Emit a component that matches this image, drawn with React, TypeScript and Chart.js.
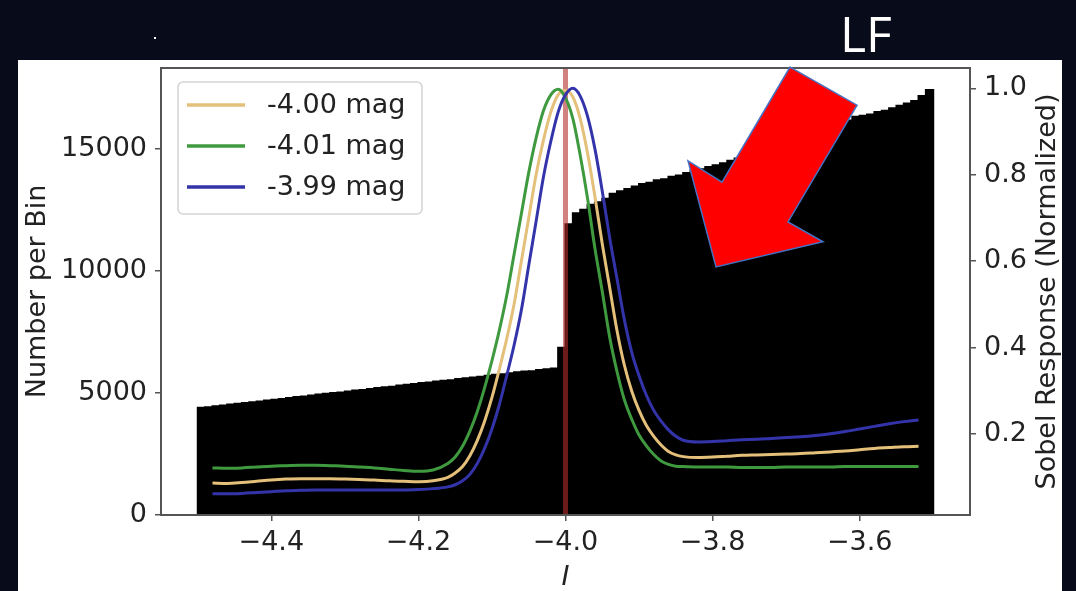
import React, { useEffect, useRef } from "react";
import { Chart, registerables } from "chart.js";

Chart.register(...registerables);

// ---------- data ----------
const HIST_START = -4.5;
const HIST_BIN_WIDTH = 0.01;
const histCounts = [
  4390, 4410, 4450, 4480, 4520, 4550, 4590, 4620, 4650, 4690,
  4720, 4750, 4790, 4830, 4850, 4890, 4930, 4960, 4990, 5020,
  5060, 5100, 5120, 5160, 5200, 5230, 5250, 5300, 5330, 5360,
  5400, 5420, 5470, 5500, 5520, 5570, 5600, 5630, 5660, 5700,
  5740, 5760, 5800, 5840, 5870, 5890, 5940, 5970, 6000, 6850,
  11900, 12350, 12500, 12700, 12800, 12950, 13150, 13250, 13350, 13450,
  13550, 13600, 13700, 13750, 13850, 13900, 14000, 14100, 14150, 14250,
  14320, 14400, 14500, 14600, 14700, 14800, 14900, 15000, 15100, 15200,
  15300, 15400, 15500, 15600, 15700, 15800, 15900, 16000, 16150, 16300,
  16350, 16400, 16500, 16550, 16650, 16750, 16850, 16950, 17150, 17400,
];

const curveX = [
  -4.48, -4.46, -4.44, -4.42, -4.40, -4.38, -4.36, -4.34, -4.32, -4.30, -4.28, -4.26, -4.24, -4.22, -4.20, -4.18, -4.16,
  -4.15, -4.14, -4.13, -4.12, -4.11, -4.10, -4.09, -4.08, -4.07, -4.06, -4.05, -4.04, -4.03, -4.02, -4.01, -4.00,
  -3.99, -3.98, -3.97, -3.96, -3.95, -3.94, -3.93, -3.92, -3.91, -3.90, -3.89, -3.88, -3.87, -3.86, -3.85, -3.84,
  -3.82, -3.80, -3.78, -3.76, -3.74, -3.72, -3.70, -3.68, -3.66, -3.64, -3.62, -3.60, -3.58, -3.56, -3.54, -3.52,
];

const sobel400 = [
  0.087, 0.086, 0.088, 0.091, 0.094, 0.096, 0.097, 0.097, 0.097, 0.096, 0.095, 0.094, 0.092, 0.091, 0.090, 0.092, 0.100,
  0.110, 0.125, 0.150, 0.185, 0.230, 0.285, 0.350, 0.420, 0.500, 0.600, 0.700, 0.800, 0.880, 0.945, 0.985, 0.995,
  0.980, 0.930, 0.850, 0.750, 0.640, 0.540, 0.440, 0.360, 0.300, 0.255, 0.220, 0.195, 0.175, 0.160, 0.152, 0.148,
  0.146, 0.147, 0.149, 0.151, 0.152, 0.153, 0.154, 0.155, 0.157, 0.159, 0.161, 0.164, 0.167, 0.169, 0.171, 0.172,
];

const sobel401 = [
  0.122, 0.121, 0.122, 0.124, 0.126, 0.127, 0.128, 0.128, 0.127, 0.126, 0.124, 0.122, 0.119, 0.116, 0.114, 0.117, 0.132,
  0.147, 0.172, 0.207, 0.252, 0.307, 0.370, 0.440, 0.520, 0.615, 0.710, 0.805, 0.885, 0.948, 0.985, 0.998, 0.978,
  0.930, 0.845, 0.745, 0.630, 0.530, 0.425, 0.345, 0.280, 0.235, 0.198, 0.173, 0.153, 0.138, 0.130, 0.126, 0.125,
  0.124, 0.124, 0.124, 0.123, 0.123, 0.123, 0.124, 0.124, 0.124, 0.124, 0.125, 0.125, 0.125, 0.125, 0.125, 0.125,
];

const sobel399 = [
  0.062, 0.062, 0.063, 0.065, 0.067, 0.069, 0.070, 0.071, 0.071, 0.071, 0.071, 0.071, 0.071, 0.071, 0.072, 0.074, 0.078,
  0.083, 0.092, 0.107, 0.132, 0.167, 0.212, 0.268, 0.335, 0.405, 0.487, 0.590, 0.692, 0.795, 0.877, 0.945, 0.985,
  1.000, 0.982, 0.935, 0.860, 0.762, 0.655, 0.560, 0.465, 0.390, 0.335, 0.290, 0.255, 0.230, 0.210, 0.195, 0.186,
  0.182, 0.183, 0.185, 0.187, 0.188, 0.190, 0.192, 0.194, 0.197, 0.201, 0.206, 0.212, 0.218, 0.224, 0.229, 0.233,
];

const seriesLabels = ["-4.00 mag", "-4.01 mag", "-3.99 mag"];
const xTicks = [-4.4, -4.2, -4.0, -3.8, -3.6];
const yTicks = [0, 5000, 10000, 15000];
const y2Ticks = [0.2, 0.4, 0.6, 0.8, 1.0];
const REF_MAG = -4.0;

// annotation arrow, in (x, right-axis) data coordinates
const arrowX = [-3.6947, -3.6036, -3.6975, -3.6499, -3.7954, -3.8334, -3.7872];
const arrowY = [1.049, 0.961, 0.691, 0.645, 0.587, 0.832, 0.783];

// ---------- styles ----------
const FONT = "DejaVu Sans";
const FS = 27;
const TEXT = "#222";
const AXIS = "#555";
const COLORS = ["#e4c07a", "#3f9a3f", "#3434aa"];

const zeroPad = (s: any) => {
  s.paddingTop = 0;
  s.paddingBottom = 0;
  s.paddingLeft = 0;
  s.paddingRight = 0;
};

const overlayPlugin = {
  id: "overlay",
  afterDatasetDraw(chart: any, args: any) {
    if (args.meta.type !== "bar") return;
    const { ctx, chartArea } = chart;
    const x = chart.scales.x.getPixelForValue(REF_MAG);
    ctx.save();
    ctx.strokeStyle = "rgba(180,45,45,0.6)";
    ctx.lineWidth = 5;
    ctx.beginPath();
    ctx.moveTo(x, chartArea.top);
    ctx.lineTo(x, chartArea.bottom);
    ctx.stroke();
    ctx.restore();
  },
  afterDatasetsDraw(chart: any) {
    const { ctx, chartArea } = chart;
    ctx.save();
    // frame
    ctx.strokeStyle = AXIS;
    ctx.lineWidth = 2;
    ctx.strokeRect(chartArea.left, chartArea.top, chartArea.right - chartArea.left, chartArea.bottom - chartArea.top);
    // legend
    const bx = chartArea.left + 17;
    const by = chartArea.top + 14;
    const bw = 244;
    const bh = 132;
    ctx.beginPath();
    (ctx as any).roundRect(bx, by, bw, bh, 5);
    ctx.fillStyle = "rgba(255,255,255,0.85)";
    ctx.fill();
    ctx.strokeStyle = "#d4d4d4";
    ctx.lineWidth = 1.5;
    ctx.stroke();
    const lineDs = chart.data.datasets.filter((d: any) => d.type === "line");
    ctx.font = `${FS}px "${FONT}"`;
    ctx.textBaseline = "middle";
    ctx.textAlign = "left";
    lineDs.forEach((d: any, i: number) => {
      const yy = by + 23 + i * 41;
      ctx.strokeStyle = d.borderColor;
      ctx.lineWidth = 3.5;
      ctx.beginPath();
      ctx.moveTo(bx + 9, yy);
      ctx.lineTo(bx + 67, yy);
      ctx.stroke();
      ctx.fillStyle = TEXT;
      ctx.fillText(d.label, bx + 89, yy + 1);
    });
    ctx.restore();
  },
  afterDraw(chart: any) {
    const { ctx, chartArea } = chart;
    ctx.save();
    // right axis title (reads bottom to top)
    ctx.translate(1030, (chartArea.top + chartArea.bottom) / 2);
    ctx.rotate(-Math.PI / 2);
    ctx.font = `${FS}px "${FONT}"`;
    ctx.fillStyle = TEXT;
    ctx.textAlign = "center";
    ctx.textBaseline = "middle";
    ctx.fillText("Sobel Response (Normalized)", 0, 0);
    ctx.restore();
    // arrow
    const xs = chart.scales.x;
    const ys = chart.scales.y2;
    ctx.save();
    ctx.beginPath();
    arrowX.forEach((v, i) => {
      const px = xs.getPixelForValue(v);
      const py = ys.getPixelForValue(arrowY[i]);
      if (i === 0) ctx.moveTo(px, py);
      else ctx.lineTo(px, py);
    });
    ctx.closePath();
    ctx.fillStyle = "#ff0000";
    ctx.fill();
    ctx.strokeStyle = "#4472c4";
    ctx.lineWidth = 1.5;
    ctx.stroke();
    ctx.restore();
  },
};

export default function App() {
  const ref = useRef<HTMLCanvasElement | null>(null);

  useEffect(() => {
    if (!ref.current) return;
    Chart.defaults.font.family = FONT;
    const histData = histCounts.map((c, i) => ({ x: HIST_START + HIST_BIN_WIDTH * (i + 0.5), y: c }));
    const mk = (vals: number[]) => curveX.map((x, i) => ({ x, y: vals[i] }));
    const series = [sobel400, sobel401, sobel399];
    const lineOrders = [3, 2, 1];
    const tickFont = { family: FONT, size: FS };
    const chart = new Chart(ref.current, {
      type: "bar",
      data: {
        datasets: [
          {
            type: "bar",
            label: "hist",
            data: histData as any,
            backgroundColor: "#000",
            borderColor: "#000",
            borderWidth: 0,
            inflateAmount: 1,
            barPercentage: 1,
            categoryPercentage: 1,
            xAxisID: "x",
            yAxisID: "y",
            order: 10,
          } as any,
          ...series.map((vals, i) => ({
            type: "line",
            label: seriesLabels[i],
            data: mk(vals),
            borderColor: COLORS[i],
            backgroundColor: COLORS[i],
            borderWidth: 3,
            pointRadius: 0,
            fill: false,
            cubicInterpolationMode: "monotone",
            xAxisID: "x",
            yAxisID: "y2",
            order: lineOrders[i],
          })),
        ],
      },
      options: {
        animation: false,
        responsive: false,
        maintainAspectRatio: false,
        devicePixelRatio: 1,
        layout: { padding: { top: 8, left: 0, right: 0, bottom: 0 } },
        plugins: { legend: { display: false }, tooltip: { enabled: false }, title: { display: false } },
        scales: {
          x: {
            type: "linear",
            min: -4.55,
            max: -3.45,
            offset: false,
            afterBuildTicks: (s: any) => {
              s.ticks = xTicks.map((v) => ({ value: v }));
            },
            afterFit: (s: any) => {
              s.height = 76;
              zeroPad(s);
            },
            ticks: {
              autoSkip: false,
              maxRotation: 0,
              padding: 6,
              color: TEXT,
              font: tickFont,
              callback: (v: any) => (v < 0 ? "\u2212" : "") + Math.abs(Number(v)).toFixed(1),
            },
            grid: { display: true, offset: false, drawOnChartArea: false, drawTicks: true, tickLength: 6, color: AXIS, lineWidth: 1.5 },
            border: { display: false },
            title: {
              display: true,
              text: "I",
              color: TEXT,
              font: { family: FONT, size: FS, style: "italic", lineHeight: 1 },
              padding: { top: 0, bottom: 0 },
            },
          },
          y: {
            type: "linear",
            position: "left",
            min: 0,
            max: 18300,
            afterBuildTicks: (s: any) => {
              s.ticks = yTicks.map((v) => ({ value: v }));
            },
            afterFit: (s: any) => {
              s.width = 143;
              zeroPad(s);
            },
            ticks: { padding: 8, color: TEXT, font: tickFont, callback: (v: any) => String(v) },
            grid: { display: true, drawOnChartArea: false, drawTicks: true, tickLength: 6, color: AXIS, lineWidth: 1.5 },
            border: { display: false },
            title: {
              display: true,
              text: "Number per Bin",
              color: TEXT,
              font: { family: FONT, size: FS },
              padding: { top: 4, bottom: 0 },
            },
          },
          y2: {
            type: "linear",
            position: "right",
            min: 0.013,
            max: 1.047,
            afterBuildTicks: (s: any) => {
              s.ticks = y2Ticks.map((v) => ({ value: v }));
            },
            afterFit: (s: any) => {
              s.width = 92;
              zeroPad(s);
            },
            ticks: { padding: 8, color: TEXT, font: tickFont, callback: (v: any) => Number(v).toFixed(1) },
            grid: { display: true, drawOnChartArea: false, drawTicks: true, tickLength: 6, color: AXIS, lineWidth: 1.5 },
            border: { display: false },
          },
        },
      } as any,
      plugins: [overlayPlugin as any],
    });
    return () => chart.destroy();
  }, []);

  return (
    <div
      style={{
        position: "fixed",
        left: 0,
        top: 0,
        width: 1076,
        height: 591,
        background: "#080c1a",
        overflow: "hidden",
      }}
    >
      <div style={{ position: "absolute", left: 154, top: 37, width: 2, height: 2, background: "#fff" }} />
      <div
        style={{
          position: "absolute",
          left: 840,
          top: 7,
          color: "#fff",
          fontFamily: '"Open Sans", sans-serif',
          fontSize: 50,
          lineHeight: "52px",
          whiteSpace: "nowrap",
        }}
      >
        LF
      </div>
      <div style={{ position: "absolute", left: 18, top: 60, width: 1044, height: 531, background: "#fff" }}>
        <canvas ref={ref} width={1044} height={531} style={{ display: "block", width: 1044, height: 531 }} />
      </div>
    </div>
  );
}
